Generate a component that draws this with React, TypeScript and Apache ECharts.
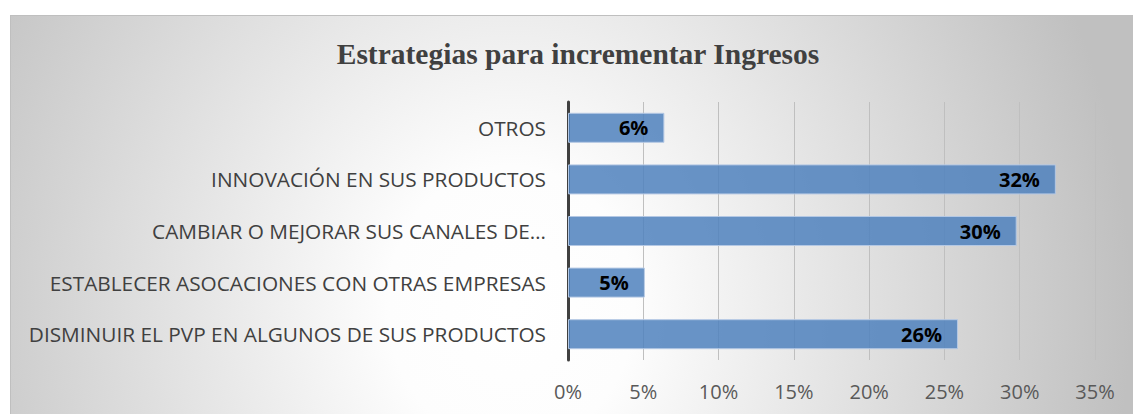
import React, { useEffect, useRef } from "react";
import * as echarts from "echarts";

const categories = [
  "DISMINUIR EL PVP EN ALGUNOS DE SUS PRODUCTOS",
  "ESTABLECER ASOCACIONES CON OTRAS EMPRESAS",
  "CAMBIAR O MEJORAR SUS CANALES DE…",
  "INNOVACIÓN EN SUS PRODUCTOS",
  "OTROS",
];
const values = [25.9, 5.1, 29.8, 32.4, 6.4];
const titleText = "Estrategias para incrementar Ingresos";
const xMin = 0;
const xMax = 35;
const xStep = 5;

export default function App() {
  const ref = useRef<HTMLDivElement>(null);
  useEffect(() => {
    if (!ref.current) return;
    const chart = echarts.init(ref.current, null, { renderer: "svg" });
    chart.setOption({
      animation: false,
      backgroundColor: "transparent",
      title: {
        text: titleText,
        left: 573,
        top: 34,
        textAlign: "center",
        textStyle: {
          fontFamily: "'Liberation Serif', 'DejaVu Serif', serif",
          fontWeight: "bold",
          fontSize: 29.5,
          color: "#404040",
        },
      },
      grid: {
        left: 568,
        right: 38,
        top: 102,
        bottom: 54,
        containLabel: false,
        outerBoundsMode: "none",
      },
      xAxis: {
        type: "value",
        min: xMin,
        max: xMax,
        interval: xStep,
        axisLine: { show: false },
        axisTick: { show: false },
        splitLine: { show: true, lineStyle: { color: "#bfbfbf", width: 1 } },
        axisLabel: {
          formatter: "{value}%",
          margin: 21,
          fontFamily: "'Open Sans', sans-serif",
          fontSize: 20,
          color: "#595959",
        },
      },
      yAxis: {
        type: "category",
        data: categories,
        axisLine: { show: true, lineStyle: { color: "#404040", width: 3 } },
        axisTick: { show: false },
        splitLine: { show: false },
        axisLabel: {
          margin: 22,
          fontFamily: "'Open Sans', sans-serif",
          fontSize: 20.8,
          color: "#404040",
        },
      },
      series: [
        {
          type: "bar",
          data: values,
          barWidth: 30,
          itemStyle: {
            color: "rgba(79,129,189,0.85)",
            borderColor: "#b4c8e4",
            borderWidth: 1,
          },
          label: {
            show: true,
            position: "insideRight",
            distance: 16,
            formatter: (p: any) => Math.round(p.value) + "%",
            fontFamily: "'Open Sans', sans-serif",
            fontWeight: "bold",
            fontSize: 20,
            color: "#000000",
          },
        },
      ],
    });
    return () => chart.dispose();
  }, []);

  return (
    <div style={{ position: "fixed", left: 0, top: 0, width: 1133, height: 414, background: "#ffffff", overflow: "hidden" }}>
      <div
        style={{
          position: "absolute",
          left: 10,
          top: 15,
          width: 1123,
          height: 399,
          boxSizing: "border-box",
          borderTop: "1px solid #bfbfbf",
          borderLeft: "1px solid #bfbfbf",
          background:
            "radial-gradient(ellipse 620px 700px at 500px 290px, #ffffff 0%, #fdfdfd 20%, #c0c0c0 100%)",
        }}
      />
      <div ref={ref} style={{ position: "absolute", left: 0, top: 0, width: 1133, height: 414 }} />
    </div>
  );
}
